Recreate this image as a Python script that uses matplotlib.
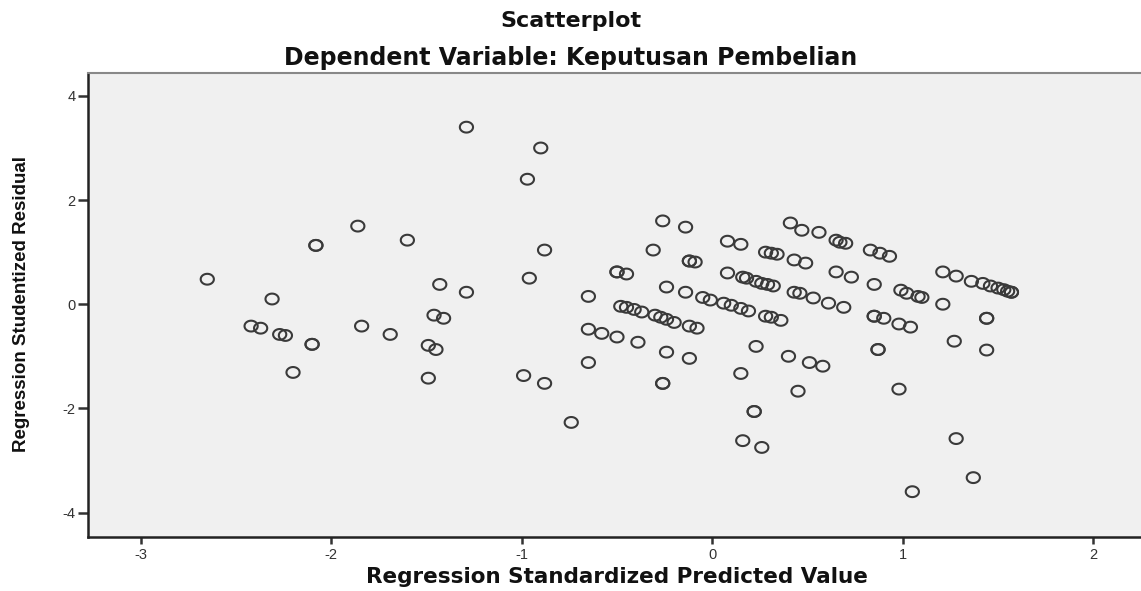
import matplotlib
matplotlib.use("Agg")
import matplotlib.pyplot as plt
import numpy as np
from matplotlib.path import Path

# Regression Standardized Predicted Value (x) and Regression Studentized Residual (y)
pred = [
    -2.65, -2.31, -2.42, -2.37, -2.27, -2.24, -2.20, -2.10, -2.10, -2.08, -2.08,
    -1.86, -1.84, -1.69, -1.60, -1.49, -1.45, -1.49, -1.46, -1.41, -1.43, -1.29,
    -1.29, -0.90, -0.97, -0.88, -0.96, -0.99, -0.88,
    -0.74, -0.65, -0.65, -0.58, -0.50, -0.39, -0.65,
    -0.48, -0.45, -0.41, -0.37, -0.30, -0.27, -0.24, -0.20, -0.12, -0.08,
    -0.24, -0.12, -0.26, -0.26, -0.50, -0.50, -0.45, -0.31, -0.26, -0.14,
    -0.12, -0.12, -0.09, -0.24, -0.14,
    -0.05, -0.01, 0.06, 0.10, 0.15, 0.19, 0.28, 0.31, 0.36,
    0.23, 0.15, 0.22, 0.22, 0.16, 0.26, 0.08, 0.15,
    0.08, 0.16, 0.18, 0.23, 0.26, 0.29, 0.32, 0.28, 0.31, 0.34, 0.43, 0.49,
    0.41, 0.47, 0.56, 0.65, 0.67, 0.70, 0.83, 0.88, 0.93, 0.65, 0.73, 0.85,
    0.43, 0.46, 0.53, 0.61, 0.69, 0.40, 0.51, 0.58, 0.45,
    0.85, 0.85, 0.90, 0.98, 1.04, 0.87, 0.87, 0.98, 1.05,
    0.99, 1.02, 1.08, 1.10, 1.21, 1.21, 1.28,
    1.36, 1.42, 1.46, 1.50, 1.53, 1.55, 1.57, 1.57,
    1.27, 1.44, 1.44, 1.44, 1.28, 1.37,
]
resid = [
    0.48, 0.10, -0.42, -0.46, -0.58, -0.60, -1.31, -0.77, -0.77, 1.13, 1.13,
    1.50, -0.42, -0.58, 1.23, -0.79, -0.87, -1.42, -0.21, -0.27, 0.38, 0.23,
    3.40, 3.00, 2.40, 1.04, 0.50, -1.37, -1.52,
    -2.27, 0.15, -0.48, -0.56, -0.63, -0.73, -1.12,
    -0.04, -0.06, -0.10, -0.15, -0.21, -0.25, -0.29, -0.35, -0.42, -0.46,
    -0.92, -1.04, -1.52, -1.52, 0.62, 0.62, 0.58, 1.04, 1.60, 1.48,
    0.83, 0.83, 0.81, 0.33, 0.23,
    0.13, 0.08, 0.02, -0.02, -0.08, -0.13, -0.23, -0.25, -0.31,
    -0.81, -1.33, -2.06, -2.06, -2.62, -2.75, 1.21, 1.15,
    0.60, 0.52, 0.50, 0.44, 0.40, 0.38, 0.35, 1.00, 0.98, 0.96, 0.85, 0.79,
    1.56, 1.42, 1.38, 1.23, 1.19, 1.17, 1.04, 0.98, 0.92, 0.62, 0.52, 0.38,
    0.23, 0.21, 0.12, 0.02, -0.06, -1.00, -1.12, -1.19, -1.67,
    -0.23, -0.23, -0.27, -0.38, -0.44, -0.87, -0.87, -1.63, -3.60,
    0.27, 0.21, 0.15, 0.13, 0.00, 0.62, 0.54,
    0.44, 0.40, 0.35, 0.31, 0.28, 0.25, 0.23, 0.23,
    -0.71, -0.27, -0.27, -0.88, -2.58, -3.33,
]

x_ticks = [-3, -2, -1, 0, 1, 2]
y_ticks = [-4, -2, 0, 2, 4]

title = "Scatterplot"
subtitle = "Dependent Variable: Keputusan Pembelian"
x_label = "Regression Standardized Predicted Value"
y_label = "Regression Studentized Residual"

# slightly flattened open ring marker (the reference image is stretched horizontally)
t = np.linspace(0, 2 * np.pi, 61)
ring = Path(np.column_stack([np.cos(t), 0.82 * np.sin(t)]), closed=True)

fig = plt.figure(figsize=(11.41, 5.91), dpi=100)
fig.patch.set_facecolor("white")
ax = fig.add_axes([88 / 1141, 1 - 537 / 591, 1 - 88 / 1141, (537 - 73) / 591])
ax.set_facecolor("#f0f0f0")

ax.scatter(pred, resid, s=90, marker=ring, facecolors="none", edgecolors="#3a3a3a",
           linewidths=1.5, zorder=3)

ax.set_xlim(-3.276, 2.25)
ax.set_ylim(-4.47, 4.44)
ax.set_xticks(x_ticks)
ax.set_yticks(y_ticks)
ax.set_xticklabels([str(t) for t in x_ticks], family="Liberation Sans", fontsize=10.5, color="#333333")
ax.set_yticklabels([str(t) for t in y_ticks], family="Liberation Sans", fontsize=10.5, color="#333333")
ax.tick_params(axis="x", direction="out", length=5, width=1.8, color="#333333", pad=3)
ax.tick_params(axis="y", direction="out", length=7, width=1.8, color="#333333", pad=2)

for side in ("left", "bottom"):
    ax.spines[side].set_linewidth(1.8)
    ax.spines[side].set_color("#222222")
ax.spines["top"].set_linewidth(1.5)
ax.spines["top"].set_color("#888888")
ax.spines["right"].set_visible(False)

fig.text(0.5, 1 - 21 / 591, title, ha="center", va="center",
         family="DejaVu Sans", fontweight="bold", fontsize=16, color="#111111")
fig.text(0.5, 1 - 58 / 591, subtitle, ha="center", va="center",
         family="DejaVu Sans", fontweight="bold", fontsize=17, color="#111111")
fig.text(617 / 1141, 1 - 577 / 591, x_label, ha="center", va="center",
         family="DejaVu Sans", fontweight="bold", fontsize=15.5, color="#111111")
fig.text(22 / 1141, 1 - 304 / 591, y_label, ha="center", va="center", rotation=90,
         family="Liberation Sans", fontweight="bold", fontsize=13.5, color="#111111")

fig.savefig("out.png", dpi=100)
